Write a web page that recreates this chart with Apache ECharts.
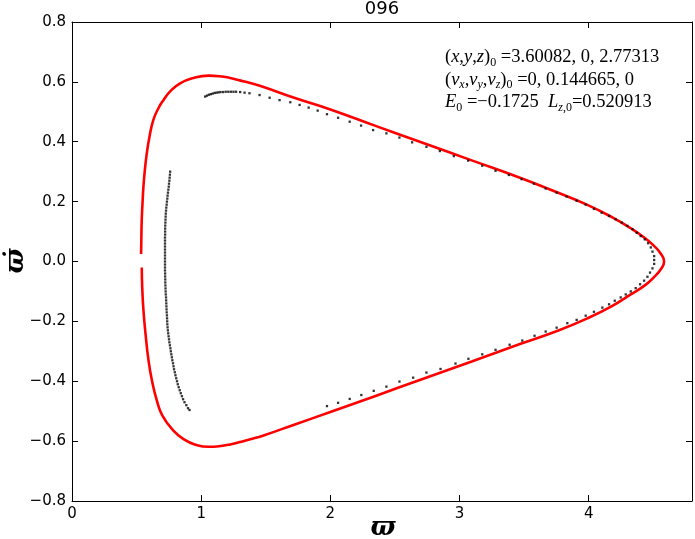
<!DOCTYPE html>
<html>
<head>
<meta charset="utf-8">
<script src="https://cdn.jsdelivr.net/npm/echarts@6/dist/echarts.min.js"></script>
<style>
html,body{margin:0;padding:0;background:#fff;}
#chart{width:695px;height:539px;}
</style>
</head>
<body>
<div id="chart"></div>
<script>
// ---- data ----
var titleText = '096';
var xName = '\u03D6';
var yName = '\u03D6\u0307';
var xTicks = [0, 1, 2, 3, 4];
var yTicks = [-0.8, -0.6, -0.4, -0.2, 0.0, 0.2, 0.4, 0.6, 0.8];

// zero-velocity (red) curve, from the upper gap around to the lower gap
var redCurve = [
  [0.535,0.025],[0.537,0.080],[0.540,0.139],[0.546,0.195],[0.553,0.250],[0.564,0.305],[0.579,0.361],
  [0.600,0.417],[0.630,0.473],[0.669,0.512],[0.708,0.539],[0.760,0.568],[0.837,0.595],
  [0.940,0.613],[1.057,0.621],[1.140,0.619],[1.225,0.613],[1.300,0.605],[1.380,0.596],[1.483,0.583],
  [1.720,0.547],[2.000,0.508],[2.350,0.453],[2.698,0.399],[3.100,0.337],[3.473,0.279],[3.750,0.232],
  [3.990,0.189],[4.180,0.148],[4.326,0.111],[4.440,0.077],[4.506,0.052],[4.560,0.025],
  [4.584,0.000],[4.560,-0.025],[4.506,-0.052],[4.440,-0.078],[4.326,-0.110],[4.180,-0.149],
  [3.990,-0.190],[3.750,-0.233],[3.473,-0.275],[3.100,-0.333],[2.698,-0.395],[2.350,-0.449],
  [2.000,-0.503],[1.720,-0.545],[1.483,-0.581],[1.380,-0.594],[1.300,-0.603],[1.225,-0.611],
  [1.140,-0.617],[1.057,-0.619],[0.950,-0.611],[0.870,-0.595],[0.785,-0.565],[0.700,-0.515],
  [0.656,-0.463],[0.620,-0.400],[0.592,-0.329],[0.570,-0.245],[0.553,-0.162],[0.544,-0.090],[0.540,-0.020]
];

// inner (left) arc of section points
var leftArc = [
  [0.760,0.300],[0.758,0.290],[0.756,0.280],[0.754,0.270],[0.751,0.260],[0.749,0.250],[0.746,0.240],
  [0.743,0.230],[0.740,0.220],[0.738,0.210],[0.735,0.200],[0.733,0.190],[0.730,0.180],[0.728,0.170],
  [0.726,0.160],[0.725,0.150],[0.724,0.140],[0.723,0.130],[0.722,0.120],[0.721,0.110],[0.721,0.100],
  [0.721,0.090],[0.720,0.080],[0.720,0.070],[0.720,0.060],[0.720,0.050],[0.720,0.040],[0.720,0.030],
  [0.720,0.020],[0.720,0.010],[0.720,0.000],[0.720,-0.010],[0.720,-0.020],[0.720,-0.030],[0.721,-0.040],
  [0.721,-0.050],[0.722,-0.060],[0.722,-0.070],[0.723,-0.080],[0.724,-0.090],[0.725,-0.100],
  [0.726,-0.110],[0.728,-0.120],[0.729,-0.130],[0.730,-0.140],[0.731,-0.150],[0.732,-0.160],
  [0.733,-0.170],[0.735,-0.180],[0.736,-0.190],[0.737,-0.200],[0.738,-0.210],[0.740,-0.220],
  [0.742,-0.230],[0.745,-0.240],[0.748,-0.250],[0.751,-0.260],[0.754,-0.270],[0.758,-0.280],
  [0.762,-0.290],[0.765,-0.300],[0.769,-0.310],[0.773,-0.320],[0.777,-0.330],[0.782,-0.340],
  [0.786,-0.350],[0.790,-0.360],[0.796,-0.370],[0.801,-0.380],[0.807,-0.390],[0.813,-0.400],
  [0.819,-0.410],[0.826,-0.420],[0.834,-0.430],[0.842,-0.440],[0.851,-0.450],[0.860,-0.460],
  [0.871,-0.470],[0.885,-0.480],[0.898,-0.490],[0.910,-0.496]
];

// outer arc of section points, upper branch
var outerUpper = [
  [1.031,0.551],[1.045,0.554],[1.060,0.557],[1.075,0.559],[1.090,0.561],[1.105,0.563],[1.120,0.564],
  [1.135,0.565],[1.150,0.566],[1.170,0.566],[1.190,0.567],[1.210,0.567],[1.230,0.567],[1.250,0.567],
  [1.270,0.567],[1.302,0.566],[1.336,0.564],[1.374,0.562],[1.452,0.556],[1.530,0.547],[1.607,0.539],
  [1.690,0.532],[1.762,0.523],[1.832,0.514],[1.902,0.504],[1.974,0.492],[2.060,0.480],[2.150,0.467],
  [2.238,0.454],[2.331,0.439],[2.434,0.428],[2.535,0.414],[2.633,0.398],[2.744,0.383],[2.848,0.369],
  [2.956,0.352],[3.067,0.337],[3.176,0.320],[3.279,0.303],[3.382,0.289],[3.481,0.275],[3.576,0.260],
  [3.667,0.244],[3.752,0.230],[3.829,0.217],[3.907,0.203],[3.977,0.190],[4.041,0.176],[4.101,0.163],
  [4.158,0.152],[4.209,0.141],[4.256,0.130],[4.300,0.119],[4.339,0.108],[4.372,0.096],[4.403,0.085],
  [4.434,0.074],[4.460,0.061],[4.481,0.047],[4.494,0.033],[4.507,0.018],[4.507,0.005]
];

// outer arc of section points, lower branch
var outerLower = [
  [4.507,-0.008],[4.494,-0.023],[4.475,-0.037],[4.455,-0.051],[4.429,-0.064],[4.398,-0.076],
  [4.364,-0.089],[4.326,-0.100],[4.287,-0.110],[4.248,-0.120],[4.202,-0.131],[4.158,-0.143],
  [4.106,-0.154],[4.041,-0.168],[3.977,-0.181],[3.907,-0.195],[3.835,-0.206],[3.752,-0.221],
  [3.667,-0.234],[3.581,-0.248],[3.486,-0.264],[3.388,-0.278],[3.279,-0.295],[3.176,-0.310],
  [3.069,-0.325],[2.969,-0.341],[2.853,-0.359],[2.744,-0.371],[2.641,-0.388],[2.535,-0.401],
  [2.434,-0.418],[2.336,-0.432],[2.240,-0.446],[2.150,-0.459],[2.060,-0.472],[1.974,-0.483]
];

// ---- chart ----
var chart = echarts.init(document.getElementById('chart'), null, {renderer: 'canvas'});
var serif = '"Liberation Serif", "DejaVu Serif", serif';
var rich = {
  n:  {fontFamily: serif, fontSize: 18.5, fontWeight: 'normal', color: '#000', lineHeight: 22.5, verticalAlign: 'middle'},
  m:  {fontFamily: serif, fontSize: 18.5, fontWeight: 'normal', fontStyle: 'italic', color: '#000', lineHeight: 22.5, verticalAlign: 'middle'},
  sn: {fontFamily: serif, fontSize: 12, fontWeight: 'normal', color: '#000', lineHeight: 11, verticalAlign: 'bottom'},
  sm: {fontFamily: serif, fontSize: 12, fontWeight: 'normal', fontStyle: 'italic', color: '#000', lineHeight: 11, verticalAlign: 'bottom'}
};
var annot =
  '{n|(}{m|x}{n|,}{m|y}{n|,}{m|z}{n|)}{sn|0}{n| =3.60082, 0, 2.77313}\n' +
  '{n|(}{m|v}{sm|x}{n|,}{m|v}{sm|y}{n|,}{m|v}{sm|z}{n|)}{sn|0}{n| =0, 0.144665, 0}\n' +
  '{m|E}{sn|0}{n| =\u22120.1725  }{m|L}{sm|z}{sn|,0}{n|=0.520913}';

function yFmt(v) {
  if (Math.abs(v) < 1e-9) v = 0;
  return v.toFixed(1).replace('-', '\u2212');
}
var tickFont = {fontFamily: '"DejaVu Sans", sans-serif', fontSize: 15, color: '#000'};
var axisLine = {show: true, onZero: false, lineStyle: {color: '#000', width: 1}};
var tick = {show: true, inside: true, length: 6, lineStyle: {color: '#000', width: 1}};
var nameFontCss = 'italic bold 26px "DejaVu Serif", serif';

var option = {
  animation: false,
  backgroundColor: '#fff',
  title: [
    {text: titleText, left: 382, textAlign: 'center', top: 0, padding: 0,
     textStyle: {fontFamily: '"DejaVu Sans", sans-serif', fontSize: 18, fontWeight: 'normal', color: '#000'}},
    {text: annot, left: 445, top: 46, padding: 0, textStyle: {fontWeight: 'normal', rich: rich}}
  ],
  graphic: [
    {type: 'text', x: 383, y: 528, style: {text: xName, font: nameFontCss, fill: '#000', textAlign: 'center', textVerticalAlign: 'middle'}},
    {type: 'text', x: 16, y: 261, rotation: Math.PI / 2, style: {text: yName, font: nameFontCss, fill: '#000', textAlign: 'center', textVerticalAlign: 'middle'}}
  ],
  grid: {left: 72, right: 3, top: 22, bottom: 38, containLabel: false, outerBoundsMode: 'none'},
  xAxis: [
    {type: 'value', position: 'bottom', min: 0, max: 4.8, interval: 1,
     axisLine: axisLine, axisTick: tick, splitLine: {show: false},
     axisLabel: Object.assign({margin: 6, showMaxLabel: false, formatter: function (v) { return xTicks.indexOf(v) >= 0 ? String(v) : ''; }}, tickFont)},
    {type: 'value', position: 'top', min: 0, max: 4.8, interval: 1,
     axisLine: axisLine, axisTick: tick, splitLine: {show: false}, axisLabel: {show: false}}
  ],
  yAxis: [
    {type: 'value', position: 'left', min: -0.8, max: 0.8, interval: 0.2,
     axisLine: axisLine, axisTick: tick, splitLine: {show: false},
     axisLabel: Object.assign({margin: 6, formatter: yFmt}, tickFont)},
    {type: 'value', position: 'right', min: -0.8, max: 0.8, interval: 0.2,
     axisLine: axisLine, axisTick: tick, splitLine: {show: false}, axisLabel: {show: false}}
  ],
  series: [
    {type: 'line', data: redCurve, xAxisIndex: 0, yAxisIndex: 0, showSymbol: false, smooth: 0.5,
     lineStyle: {color: '#ff0000', width: 2.6}, z: 2},
    {type: 'scatter', data: leftArc, symbol: 'rect', symbolSize: 2.3, itemStyle: {color: '#000'}, z: 3},
    {type: 'scatter', data: outerUpper, symbol: 'rect', symbolSize: 2.3, itemStyle: {color: '#000'}, z: 3},
    {type: 'scatter', data: outerLower, symbol: 'rect', symbolSize: 2.3, itemStyle: {color: '#000'}, z: 3}
  ]
};
chart.setOption(option);
</script>
</body>
</html>
